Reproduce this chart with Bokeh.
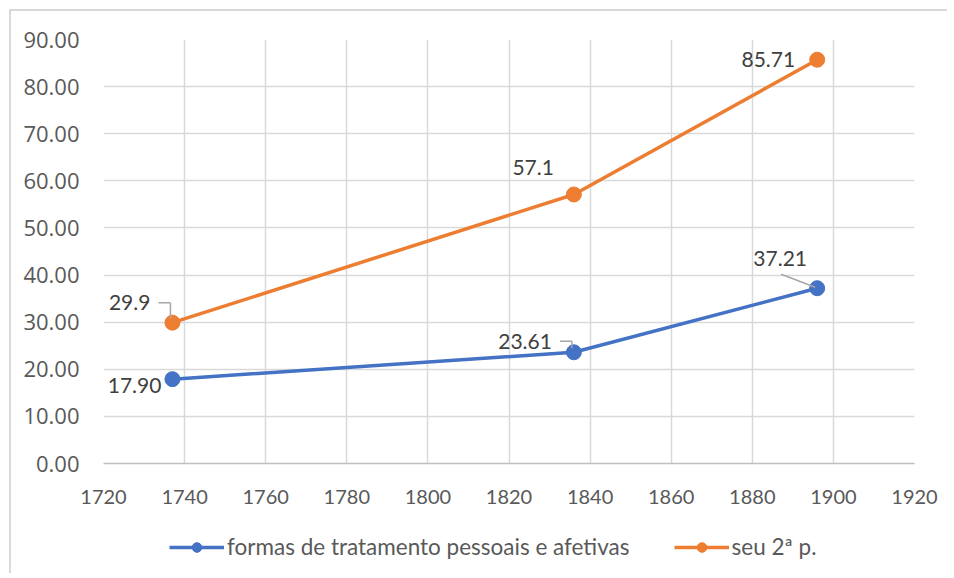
from bokeh.plotting import figure
from bokeh.layouts import column
from bokeh.models import Range1d, FixedTicker, PrintfTickFormatter, Legend, LegendItem, ColumnDataSource
from bokeh.core.properties import value
from bokeh.embed import file_html
from bokeh.resources import INLINE

years = [1737, 1836, 1896]
formas = [17.90, 23.61, 37.21]
seu = [29.9, 57.1, 85.71]
formas_labels = ["17.90", "23.61", "37.21"]
seu_labels = ["29.9", "57.1", "85.71"]
x_ticks = [1720, 1740, 1760, 1780, 1800, 1820, 1840, 1860, 1880, 1900, 1920]
y_ticks = [0, 10, 20, 30, 40, 50, 60, 70, 80, 90]
series_names = ["formas de tratamento pessoais e afetivas", "seu 2ª p."]

BLUE = "#4472C4"
ORANGE = "#ED7D31"
FONT = "Lato"
TXT = "#404040"

W, H = 936, 502
ML, MT, MR, MB = 92, 28, 33, 50
X0, X1, Y0, Y1 = 1720, 1920, 0, 90
fw, fh = W - ML - MR, H - MT - MB
px_x = (X1 - X0) / fw
px_y = (Y1 - Y0) / fh

p = figure(width=W, height=H, output_backend="svg", toolbar_location=None,
           x_range=Range1d(X0, X1), y_range=Range1d(Y0, Y1),
           min_border_left=ML, min_border_top=MT, min_border_right=MR, min_border_bottom=MB)
p.outline_line_color = None

p.xaxis.ticker = FixedTicker(ticks=x_ticks)
p.yaxis.ticker = FixedTicker(ticks=y_ticks)
p.yaxis.formatter = PrintfTickFormatter(format="%.2f")
for ax in (p.xaxis[0], p.yaxis[0]):
    ax.major_tick_line_color = None
    ax.minor_tick_line_color = None
    ax.major_label_text_color = "#595959"
p.xaxis.major_label_text_font = FONT
p.xaxis.major_label_text_font_size = "20px"
p.yaxis.major_label_text_font = "Open Sans"
p.yaxis.major_label_text_font_size = "22px"
p.yaxis.axis_line_color = None
p.xaxis.axis_line_color = "#bfbfbf"
p.xaxis.axis_line_width = 1.5
p.yaxis.major_label_standoff = 18
p.xaxis.major_label_standoff = 20
p.xgrid.ticker = FixedTicker(ticks=x_ticks)
p.ygrid.ticker = FixedTicker(ticks=y_ticks)
p.grid.grid_line_color = "#d9d9d9"
p.grid.grid_line_width = 1.5

p.line(years, formas, line_color=BLUE, line_width=3.5)
p.scatter(years, formas, size=15, fill_color=BLUE, line_color=BLUE)
p.line(years, seu, line_color=ORANGE, line_width=3.5)
p.scatter(years, seu, size=15, fill_color=ORANGE, line_color=ORANGE)

# leader lines (screen-pixel offsets converted into data units)
lead_x0, lead_y0, lead_x1, lead_y1 = [], [], [], []
def elbow(x, y, dxp, dyp):
    hx = x + dxp * px_x
    hy = y + dyp * px_y
    lead_x0.extend([hx, x - 2 * px_x])
    lead_y0.extend([hy, hy])
    lead_x1.extend([x - 2 * px_x, x - 2 * px_x])
    lead_y1.extend([hy, y + 4 * px_y])
elbow(years[0], seu[0], -14, 20)
elbow(years[1], formas[1], -14, 11)
lead_x0.append(years[2] - 36 * px_x); lead_y0.append(formas[2] + 14 * px_y)
lead_x1.append(years[2] - 2 * px_x); lead_y1.append(formas[2] + 1 * px_y)
p.segment(lead_x0, lead_y0, lead_x1, lead_y1, line_color="#a6a6a6", line_width=1.5)

# data labels
lab = ColumnDataSource(dict(
    x=years + years,
    y=formas + seu,
    t=formas_labels + seu_labels,
    xo=[-11, -22, -37, -22, -20, -22],
    yo=[6, -11, -30, -20, -27, 0],
    al=["right", "right", "center", "right", "right", "right"],
))
p.text(x="x", y="y", text="t", x_offset="xo", y_offset="yo", text_align="al",
       text_baseline="middle", source=lab, text_font=value(FONT),
       text_font_size="21px", text_color=TXT)

# legend strip (its series sit outside the strip's visible range)
lf = figure(width=W, height=60, output_backend="svg", toolbar_location=None,
            x_axis_location=None, y_axis_location=None,
            x_range=Range1d(X0, X1), y_range=Range1d(-1000, -999),
            min_border=0)
lf.outline_line_color = None
lf.grid.visible = False
r1 = lf.line(years, formas, line_color=BLUE, line_width=3.5)
s1 = lf.scatter(years, formas, size=13, fill_color=BLUE, line_color=BLUE)
r2 = lf.line(years, seu, line_color=ORANGE, line_width=3.5)
s2 = lf.scatter(years, seu, size=13, fill_color=ORANGE, line_color=ORANGE)
legend = Legend(items=[LegendItem(label=series_names[0], renderers=[r1, s1]),
                       LegendItem(label=series_names[1], renderers=[r2, s2])],
                orientation="horizontal", location=(66, 13))
legend.label_text_font = FONT
legend.label_text_font_size = "22.5px"
legend.label_text_color = "#595959"
legend.glyph_width = 55
legend.glyph_height = 24
legend.label_standoff = 3
legend.spacing = 44
legend.border_line_color = None
legend.background_fill_alpha = 0
legend.margin = 0
legend.padding = 0
lf.add_layout(legend)

lay = column(p, lf, spacing=0)
lay.margin = (9, 0, 0, 9)
lay.styles = {"border-left": "2px solid #d9d9d9", "border-top": "2px solid #d9d9d9"}

open("out.html", "w").write(file_html(lay, INLINE))
